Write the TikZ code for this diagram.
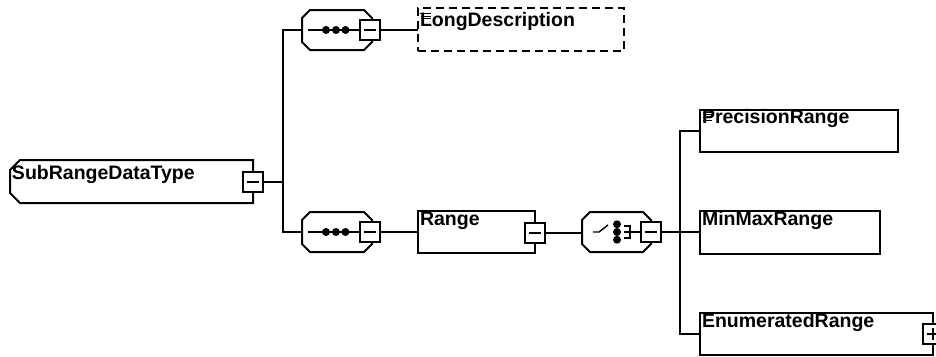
\documentclass[tikz,border=0pt]{standalone}
\usepackage{fontspec}
\setmainfont{Liberation Sans}
\begin{document}
\begin{tikzpicture}[x=1pt,y=-1pt,
  elbox/.style={draw, line width=2pt, rectangle, inner sep=0pt, outer sep=0pt},
  optbox/.style={elbox, dash pattern=on 8pt off 5pt},
  grp/.style={rectangle, inner sep=0pt, outer sep=0pt, minimum width=70pt, minimum height=40pt},
  minusbox/.style={draw, line width=1.5pt, fill=white, rectangle, minimum size=20pt, inner sep=0pt,
    outer sep=0pt, path picture={\draw[line width=1.5pt]
      ([xshift=-6pt]path picture bounding box.center) -- ([xshift=6pt]path picture bounding box.center);}},
  plusbox/.style={minusbox, path picture={\draw[line width=1.5pt]
      ([xshift=-6pt]path picture bounding box.center) -- ([xshift=6pt]path picture bounding box.center)
      ([yshift=-6pt]path picture bounding box.center) -- ([yshift=6pt]path picture bounding box.center);}},
  lbl/.style={font=\fontsize{19.5}{22}\selectfont\bfseries, inner sep=0pt, outer sep=0pt, anchor=base west},
  conn/.style={line width=2pt},
  outline/.style={line width=2pt, line join=miter},
  inner/.style={line width=1.4pt},
  dot/.style={fill=black}
]
\fill[white] (0,0) rectangle (936,356);
\useasboundingbox (0,0) rectangle (936,356);

% octagon outline around a node, chamfer #2
\newcommand{\octpath}[2]{%
  \draw[outline] ([xshift=#2]#1.north west) -- ([xshift=-#2]#1.north east) -- ([yshift=-#2]#1.north east)
    -- ([yshift=#2]#1.south east) -- ([xshift=-#2]#1.south east) -- ([xshift=#2]#1.south west)
    -- ([yshift=#2]#1.south west) -- ([yshift=-#2]#1.north west) -- cycle;}

% root element, chamfered on the left only
\node[rectangle, inner sep=0pt, outer sep=0pt, minimum width=243pt, minimum height=43pt] (root) at (131.5,181.5) {};
\draw[outline] ([xshift=10pt]root.north west) -- (root.north east) -- (root.south east)
  -- ([xshift=10pt]root.south west) -- ([yshift=10pt]root.south west) -- ([yshift=-10pt]root.north west) -- cycle;
\node[lbl] (rootlbl) at (12,179) {SubRangeDataType};
\node[minusbox] (rootm) at (253,182) {};

% first sequence and LongDescription
\node[grp] (s1) at (337,30) {};
\octpath{s1}{8pt}
\draw[inner] ([xshift=6pt]s1.west) -- ([xshift=-10pt]s1.east);
\fill[dot] (326,30) circle[radius=4pt] (336,30) circle[radius=4pt] (345.5,30) circle[radius=4pt];
\node[minusbox] (s1m) at (370,30) {};

\node[optbox, minimum width=206pt, minimum height=43pt] (ld) at (521,29.5) {};
\node[lbl] (ldlbl) at (420,26) {LongDescription};
\draw[line width=1pt] (420,13.5) -- (431,13.5) (421,16) -- (431,16) (421,18.5) -- (431,18.5);

% second sequence and Range
\node[grp] (s2) at (337,232) {};
\octpath{s2}{8pt}
\draw[inner] ([xshift=6pt]s2.west) -- ([xshift=-10pt]s2.east);
\fill[dot] (326,232) circle[radius=4pt] (336,232) circle[radius=4pt] (345.5,232) circle[radius=4pt];
\node[minusbox] (s2m) at (370,232) {};

\node[elbox, minimum width=117pt, minimum height=42pt] (rg) at (476.5,232) {};
\node[lbl] (rglbl) at (420,225) {Range};
\node[minusbox] (rgm) at (535,233) {};

% choice
\node[grp, minimum width=69pt] (ch) at (616.5,232) {};
\octpath{ch}{8pt}
\draw[inner] (593,232) -- (599,232) -- (608,225);
\fill[dot] (617,224.3) circle[radius=4pt] (617,232) circle[radius=4pt] (617,239.7) circle[radius=4pt];
\draw[inner] (624,226) -- (630,226) -- (630,238) -- (624,238) (624,232) -- (641,232);
\node[minusbox] (chm) at (651,232) {};

% choice members
\node[elbox, minimum width=198pt, minimum height=42pt] (pr) at (799,131) {};
\node[lbl] (prlbl) at (702,123) {PrecisionRange};
\draw[line width=1pt] (703,112) -- (712,112) (703,114.7) -- (712,114.7) (703,117.4) -- (712,117.4) (703,120.1) -- (712,120.1);

\node[elbox, minimum width=180pt, minimum height=43pt] (mm) at (790,232.5) {};
\node[lbl] (mmlbl) at (702,225) {MinMaxRange};

\node[elbox, minimum width=233pt, minimum height=42pt] (er) at (816.5,334) {};
\node[lbl] (erlbl) at (702,327) {EnumeratedRange};
\node[plusbox] (erp) at (933,334) {};

% connectors
\coordinate (j1) at (283,182);
\coordinate (j2) at (680,232);
\draw[conn] (rootm.east) -- (rootm.east -| j1);
\draw[conn] (s1.west) -- (s1.west -| j1) -- (s2.west -| j1) -- (s2.west);
\draw[conn] (s1m.east) -- (s1m.east -| ld.west);
\draw[conn] (s2m.east) -- (s2m.east -| rg.west);
\draw[conn] (rgm.east) -- (rgm.east -| ch.west);
\draw[conn] (chm.east) -- (chm.east -| mm.west);
\draw[conn] (pr.west) -- (pr.west -| j2) -- (er.west -| j2) -- (er.west);
\end{tikzpicture}
\end{document}
